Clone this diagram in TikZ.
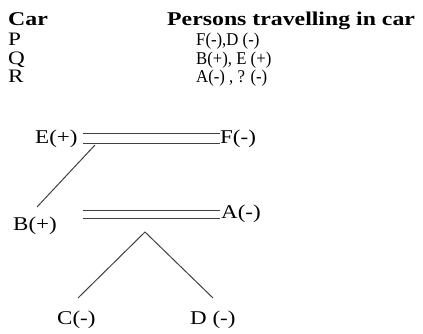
\documentclass[tikz,border=0pt]{standalone}
\usepackage{fontspec}
\setmainfont{Liberation Serif}
\newfontfamily\hdfont[FakeStretch=1.22]{Liberation Serif}
\newfontfamily\lblfont[FakeStretch=1.18]{Liberation Serif}
\newfontfamily\cellfont[FakeStretch=0.93]{Liberation Serif}
\begin{document}
\begin{tikzpicture}[x=1pt,y=-1pt,
  hd/.style={anchor=base west,inner sep=0pt,font=\hdfont\fontsize{19.5}{22}\selectfont\bfseries},
  row/.style={anchor=base west,inner sep=0pt,font=\hdfont\fontsize{19}{22}\selectfont},
  cell/.style={anchor=base west,inner sep=0pt,font=\cellfont\fontsize{18}{20}\selectfont},
  lbl/.style={anchor=west,inner xsep=0pt,inner ysep=1pt,font=\lblfont\fontsize{19.5}{22}\selectfont},
  link/.style={line width=1pt,draw=black!75}]
\useasboundingbox (0,0) rectangle (423,334);
% table
\node[hd] (hcar) at (8,26) {Car};
\node[hd] (hper) at (167,26) {Persons travelling in car};
\node[row] (rp) at (8,46) {P};
\node[row] (rq) at (8,65) {Q};
\node[row] (rr) at (8,83) {R};
\node[cell] (cp) at (196,46) {F(-),D (-)};
\node[cell] (cq) at (196,65) {B(+), E (+)};
\node[cell] (cr) at (196,83) {A(-) , ? (-)};
% diagram
\node[lbl] (E) at (35,139) {E(+)};
\node[lbl] (F) at (220,139) {F(-)};
\node[lbl] (B) at (13,226) {B(+)};
\node[lbl] (A) at (221,214) {A(-)};
\node[lbl] (C) at (57,320) {C(-)};
\node[lbl] (D) at (190,320) {D (-)};
\coordinate (ef1) at (83,134); \coordinate (ef2) at (220,134);
\coordinate (ef3) at (83,144); \coordinate (ef4) at (220,144);
\coordinate (ba1) at (83,210); \coordinate (ba2) at (220,210);
\coordinate (ba3) at (83,218); \coordinate (ba4) at (220,218);
\coordinate (eb1) at (95,145); \coordinate (eb2) at (37,207);
\coordinate (apex) at (145,232);
\coordinate (cl) at (78,298); \coordinate (dl) at (213,298);
\draw[link] (ef1) -- (ef2);
\draw[link] (ef3) -- (ef4);
\draw[link] (ba1) -- (ba2);
\draw[link] (ba3) -- (ba4);
\draw[link] (eb1) -- (eb2);
\draw[link] (cl) -- (apex) -- (dl);
\end{tikzpicture}
\end{document}
